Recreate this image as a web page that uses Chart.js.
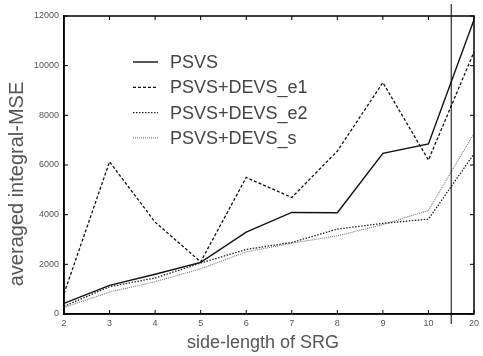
<!DOCTYPE html>
<html>
<head>
<meta charset="utf-8">
<script src="https://cdn.jsdelivr.net/npm/chart.js@4"></script>
<style>
  body { margin: 0; background: #fff; }
  #wrap { width: 483px; height: 356px; }
</style>
</head>
<body>
<div id="wrap"><canvas id="myChart"></canvas></div>
<script>
const sideLengths = ['2', '3', '4', '5', '6', '7', '8', '9', '10', '20'];
const psvs   = [430, 1150, 1600, 2080, 3300, 4090, 4080, 6470, 6850, 11850];
const psvsE1 = [820, 6130, 3700, 2100, 5500, 4690, 6560, 9320, 6200, 10550];
const psvsE2 = [310, 1100, 1450, 2050, 2600, 2880, 3420, 3650, 3820, 6450];
const psvsS  = [260, 880, 1300, 1820, 2500, 2850, 3150, 3600, 4170, 7280];
const yTicks = [0, 2000, 4000, 6000, 8000, 10000, 12000];

const FONT = '"Liberation Sans", Arial, sans-serif';

// frame, inward ticks, axis break, titles and legend drawn on top
const decorations = {
  id: 'decorations',
  afterDraw(chart) {
    const ctx = chart.ctx;
    const a = chart.chartArea;
    const x = chart.scales.x;
    const y = chart.scales.y;
    ctx.save();

    ctx.strokeStyle = '#000';
    ctx.lineWidth = 1.5;
    ctx.strokeRect(a.left, a.top, a.right - a.left, a.bottom - a.top);

    ctx.lineWidth = 1;
    ctx.beginPath();
    sideLengths.forEach((c, i) => {
      const px = x.getPixelForValue(i);
      ctx.moveTo(px, a.bottom); ctx.lineTo(px, a.bottom - 4);
      ctx.moveTo(px, a.top); ctx.lineTo(px, a.top + 4);
    });
    yTicks.forEach(v => {
      const py = y.getPixelForValue(v);
      ctx.moveTo(a.left, py); ctx.lineTo(a.left + 4, py);
      ctx.moveTo(a.right, py); ctx.lineTo(a.right - 4, py);
    });
    ctx.stroke();

    // axis break between 10 and 20
    const bx = (x.getPixelForValue(8) + x.getPixelForValue(9)) / 2;
    ctx.beginPath();
    ctx.moveTo(bx, a.top - 12);
    ctx.lineTo(bx, a.bottom + 10);
    ctx.stroke();

    // axis titles
    ctx.fillStyle = '#555';
    ctx.textAlign = 'center';
    ctx.textBaseline = 'middle';
    ctx.font = '18px ' + FONT;
    ctx.fillText('side-length of SRG', 263, 343);
    ctx.save();
    ctx.translate(17, 184);
    ctx.rotate(-Math.PI / 2);
    ctx.font = '20px ' + FONT;
    ctx.fillText('averaged integral-MSE', 0, 0);
    ctx.restore();

    // legend
    ctx.textAlign = 'left';
    ctx.font = '18px ' + FONT;
    chart.data.datasets.forEach((ds, i) => {
      const ly = 62 + i * 25.3;
      ctx.strokeStyle = ds.borderColor;
      ctx.lineWidth = ds.borderWidth;
      ctx.setLineDash(ds.borderDash || []);
      ctx.beginPath();
      ctx.moveTo(133, ly);
      ctx.lineTo(158, ly);
      ctx.stroke();
      ctx.setLineDash([]);
      ctx.fillStyle = '#444';
      ctx.fillText(ds.label, 170, ly + 1);
    });
    ctx.restore();
  },
};

const data = {
  labels: sideLengths,
  datasets: [
    { label: 'PSVS', data: psvs, borderColor: '#111', borderWidth: 1.4 },
    { label: 'PSVS+DEVS_e1', data: psvsE1, borderColor: '#111', borderWidth: 1.3, borderDash: [3, 2] },
    { label: 'PSVS+DEVS_e2', data: psvsE2, borderColor: '#222', borderWidth: 1.3, borderDash: [1.5, 1.5] },
    { label: 'PSVS+DEVS_s', data: psvsS, borderColor: '#777', borderWidth: 1.1, borderDash: [1, 1] },
  ].map(ds => ({ ...ds, pointRadius: 0, tension: 0, fill: false })),
};

const config = {
  type: 'line',
  data: data,
  options: {
    responsive: true,
    maintainAspectRatio: false,
    animation: false,
    layout: { padding: { top: 16, right: 7, left: 0, bottom: 0 } },
    plugins: { legend: { display: false }, tooltip: { enabled: false } },
    scales: {
      x: {
        offset: false,
        afterFit: s => { s.height = 42; },
        grid: { display: false, drawTicks: false },
        border: { display: true, color: '#000', width: 1.5 },
        ticks: { autoSkip: false, maxRotation: 0, padding: 4, color: '#555', font: { family: FONT, size: 9 } },
      },
      y: {
        min: 0,
        max: 12000,
        afterFit: s => { s.width = 64; },
        grid: { display: false, drawTicks: false },
        border: { display: true, color: '#000', width: 1.5 },
        ticks: { stepSize: 2000, padding: 5, color: '#555', font: { family: FONT, size: 9 }, callback: v => String(v) },
      },
    },
  },
  plugins: [decorations],
};

const myChart = new Chart(document.getElementById('myChart'), config);
</script>
</body>
</html>
